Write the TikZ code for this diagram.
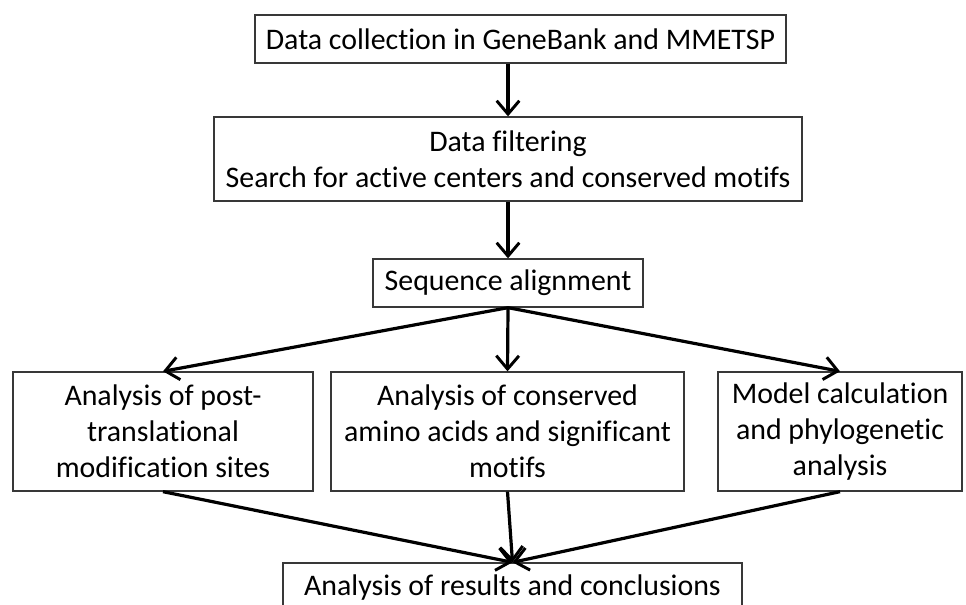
\documentclass[tikz,border=0pt]{standalone}
\usepackage{fontspec}
\setmainfont{Carlito}[RawFeature={-liga;-clig}]
\usetikzlibrary{arrows.meta}
\begin{document}
\begin{tikzpicture}[x=0.75pt,y=-0.75pt,
  box/.style={draw=black!78, line width=1pt, fill=white, inner sep=0pt, align=center,
    font=\fontsize{22.4}{27}\selectfont, text=black},
  arr/.style={line width=2.4pt, -{Straight Barb[length=10pt,width=17pt,line width=2.2pt]}, black}]
\useasboundingbox (0,0) rectangle (966,605);
\clip (0,0) rectangle (966,605);
\fill[white] (0,0) rectangle (966,605);
\node[box, minimum width=531*0.75pt, minimum height=48*0.75pt] (top) at (520.5,39) {Data collection in GeneBank and MMETSP};
\node[box, minimum width=588*0.75pt, minimum height=84*0.75pt] (filt) at (508,159) {Data filtering\\Search for active centers and conserved motifs};
\node[box, minimum width=270*0.75pt, minimum height=48*0.75pt] (seq) at (508,283) {Sequence alignment};
\node[box, minimum width=300*0.75pt, minimum height=119*0.75pt] (left) at (163,431.5) {Analysis of post-\\translational\\modification sites};
\node[box, minimum width=353*0.75pt, minimum height=119*0.75pt] (mid) at (507.5,431.5) {Analysis of conserved\\amino acids and significant\\motifs};
\node[box, minimum width=244*0.75pt, minimum height=119*0.75pt] (right) at (840,431.5) {Model calculation\\and phylogenetic\\analysis};
\node[box, minimum width=459*0.75pt, minimum height=50*0.75pt] (res) at (512.5,588) {Analysis of results and conclusions};
\draw[arr] (top.south -| filt.north) -- (filt.north);
\draw[arr] (filt.south) -- (seq.north);
\draw[arr] (seq.south) -- (left.north);
\draw[arr] (seq.south) -- (mid.north);
\draw[arr] (seq.south) -- (right.north);
\draw[arr] (left.south) -- (res.north);
\draw[arr] (mid.south) -- (res.north);
\draw[arr] (right.south) -- (res.north);
\end{tikzpicture}
\end{document}
